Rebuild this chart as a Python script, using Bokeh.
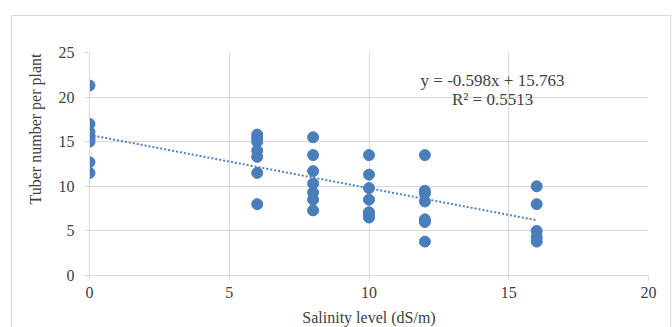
from bokeh.plotting import figure
from bokeh.models import Range1d, Label, FixedTicker, Title
from bokeh.embed import file_html
from bokeh.resources import INLINE

# Data
salinity = [0]*8 + [6]*7 + [8]*7 + [10]*7 + [12]*7 + [16]*5
tubers = [21.3, 17.0, 16.1, 15.6, 15.3, 15.0, 12.7, 11.5,
          15.8, 15.4, 15.0, 14.0, 13.3, 11.5, 8.0,
          15.5, 13.5, 11.7, 10.3, 9.3, 8.5, 7.3,
          13.5, 11.3, 9.8, 8.5, 7.1, 6.8, 6.5,
          13.5, 9.5, 9.2, 8.3, 6.3, 6.0, 3.8,
          10.0, 8.0, 5.0, 4.3, 3.8]
slope = -0.598
intercept = 15.763
trend_x = [0, 16]
x_ticks = [0, 5, 10, 15, 20]
y_ticks = [0, 5, 10, 15, 20, 25]
eq_text = "y = -0.598x + 15.763"
r2_text = "R² = 0.5513"

FONT = "Liberation Serif"
TXT = "#404040"
GRID = "#d9d9d9"
BLUE = "#4A7EBB"

p = figure(frame_width=559, frame_height=223, output_backend="svg", toolbar_location=None,
           x_range=Range1d(0, 20), y_range=Range1d(0, 25),
           min_border_left=77, min_border_right=22, min_border_top=36, min_border_bottom=50)
p.margin = (15, 0, 0, 11)
p.styles = {"border": "1px solid #d9d9d9"}
p.outline_line_color = None

p.xaxis.ticker = FixedTicker(ticks=x_ticks)
p.yaxis.ticker = FixedTicker(ticks=y_ticks)
p.xgrid.ticker = FixedTicker(ticks=x_ticks)
p.ygrid.ticker = FixedTicker(ticks=y_ticks)
p.xgrid.grid_line_color = GRID
p.ygrid.grid_line_color = GRID

for ax in (p.xaxis, p.yaxis):
    ax.axis_line_color = GRID
    ax.major_tick_line_color = GRID
    ax.major_tick_in = 0
    ax.major_tick_out = 5
    ax.minor_tick_line_color = None
    ax.major_label_text_font = FONT
    ax.major_label_text_font_size = "16px"
    ax.major_label_text_color = TXT
p.xaxis.major_label_standoff = 6
p.yaxis.major_label_standoff = 10

p.xaxis.axis_label = "Salinity level (dS/m)"
p.xaxis.axis_label_text_font = FONT
p.xaxis.axis_label_text_font_style = "normal"
p.xaxis.axis_label_text_font_size = "16px"
p.xaxis.axis_label_text_color = TXT
p.xaxis.axis_label_standoff = 8

p.add_layout(Title(text="Tuber number per plant", align="right", offset=1,
                   text_font=FONT, text_font_size="16px", text_font_style="normal",
                   text_color=TXT, standoff=24), "left")

trend_y = [slope*x + intercept for x in trend_x]
p.line(trend_x, trend_y, line_color=BLUE, line_width=2, line_dash="2 2")
p.scatter(salinity, tubers, size=11, fill_color=BLUE, line_color=BLUE, marker="circle")

p.add_layout(Label(x=14.42, y=21.9, text=eq_text, text_align="center", text_baseline="middle",
                   text_font=FONT, text_font_size="17px", text_color=TXT))
p.add_layout(Label(x=14.42, y=19.75, text=r2_text, text_align="center", text_baseline="middle",
                   text_font=FONT, text_font_size="17px", text_color=TXT))

open("out.html", "w").write(file_html(p, INLINE))
